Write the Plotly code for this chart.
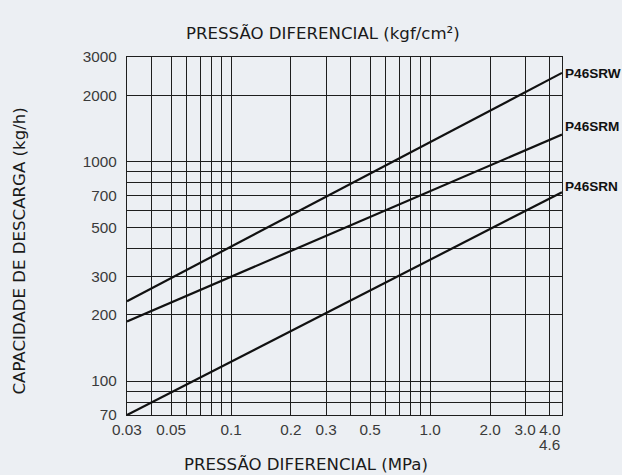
import math
import plotly.graph_objects as go

# Data
pressure_mpa = [0.03, 4.6]
srw = [231, 2540]
srm = [187, 1330]
srn = [70, 726]
series_names = ["P46SRW", "P46SRM", "P46SRN"]
label_shift = [-1, 8, 6]

x_tickvals = [0.03, 0.05, 0.1, 0.2, 0.3, 0.5, 1.0, 2.0, 3.0, 4.0]
x_ticktext = ["0.03", "0.05", "0.1", "0.2", "0.3", "0.5", "1.0", "2.0", "3.0", "4.0"]
x_minor = [0.04, 0.06, 0.07, 0.08, 0.09, 0.4, 0.6, 0.7, 0.8, 0.9]
y_tickvals = [70, 100, 200, 300, 500, 700, 1000, 2000, 3000]
y_ticktext = ["70", "100", "200", "300", "500", "700", "1000", "2000", "3000"]
y_minor = [80, 90, 400, 600, 800, 900]

BG = "#eceff3"
GRID = "#1e1e1e"
TXT = "#3a3a3a"
TITLE_FONT = dict(family="DejaVu Sans", size=16.6, color="#1a1a1a")
TICK_FONT = dict(family="Liberation Sans", size=15.3, color=TXT)

fig = go.Figure()
for name, vals in zip(series_names, [srw, srm, srn]):
    fig.add_trace(go.Scatter(x=pressure_mpa, y=vals, mode="lines", name=name,
                             line=dict(color="#111111", width=2.2),
                             showlegend=False, cliponaxis=False))

annotations = []
for name, vals, sh in zip(series_names, [srw, srm, srn], label_shift):
    annotations.append(dict(xref="x domain", x=1, yref="y", y=math.log10(vals[-1]),
                            text="<b>%s</b>" % name, showarrow=False,
                            xanchor="left", yanchor="middle", xshift=1, yshift=sh,
                            font=dict(family="Liberation Sans", size=13.6, color="#111111")))
annotations.append(dict(xref="x domain", x=1, yref="paper", y=0, yanchor="top",
                        yshift=-19, text="4.6", showarrow=False, font=TICK_FONT))
annotations.append(dict(xref="paper", x=0.4506, yref="paper", y=1.067,
                        xanchor="center", yanchor="middle",
                        text="PRESSÃO DIFERENCIAL (kgf/cm²)", showarrow=False,
                        font=TITLE_FONT))
annotations.append(dict(xref="paper", x=0.4115, yref="paper", y=-0.139,
                        xanchor="center", yanchor="middle",
                        text="PRESSÃO DIFERENCIAL (MPa)", showarrow=False,
                        font=TITLE_FONT))
annotations.append(dict(xref="paper", x=-0.248, yref="paper", y=0.457,
                        xanchor="center", yanchor="middle",
                        text="CAPACIDADE DE DESCARGA (kg/h)", showarrow=False,
                        textangle=-90, font=TITLE_FONT))

axis_common = dict(type="log", showline=True, mirror=True, linecolor=GRID, linewidth=1.3,
                   showgrid=True, gridcolor=GRID, gridwidth=1.2, ticks="", zeroline=False,
                   tickfont=TICK_FONT)

fig.update_layout(
    width=622, height=475,
    margin=dict(l=127, r=60, t=57, b=60),
    paper_bgcolor=BG, plot_bgcolor=BG,
    xaxis=dict(axis_common, range=[math.log10(0.03), math.log10(4.6)],
               tickmode="array", tickvals=x_tickvals, ticktext=x_ticktext,
               minor=dict(tickmode="array", tickvals=x_minor, showgrid=True,
                          gridcolor=GRID, gridwidth=1.2, ticks="")),
    yaxis=dict(axis_common, range=[math.log10(70), math.log10(3000)],
               tickmode="array", tickvals=y_tickvals, ticktext=y_ticktext, ticklabelstandoff=6,
               minor=dict(tickmode="array", tickvals=y_minor, showgrid=True,
                          gridcolor=GRID, gridwidth=1.2, ticks="")),
    annotations=annotations,
)

fig.write_html("out.html",
               config={"displayModeBar": False},
               post_script="document.body.style.margin='0px';"
                           "document.body.style.background='%s';"
                           "document.body.style.overflow='hidden';" % BG)
